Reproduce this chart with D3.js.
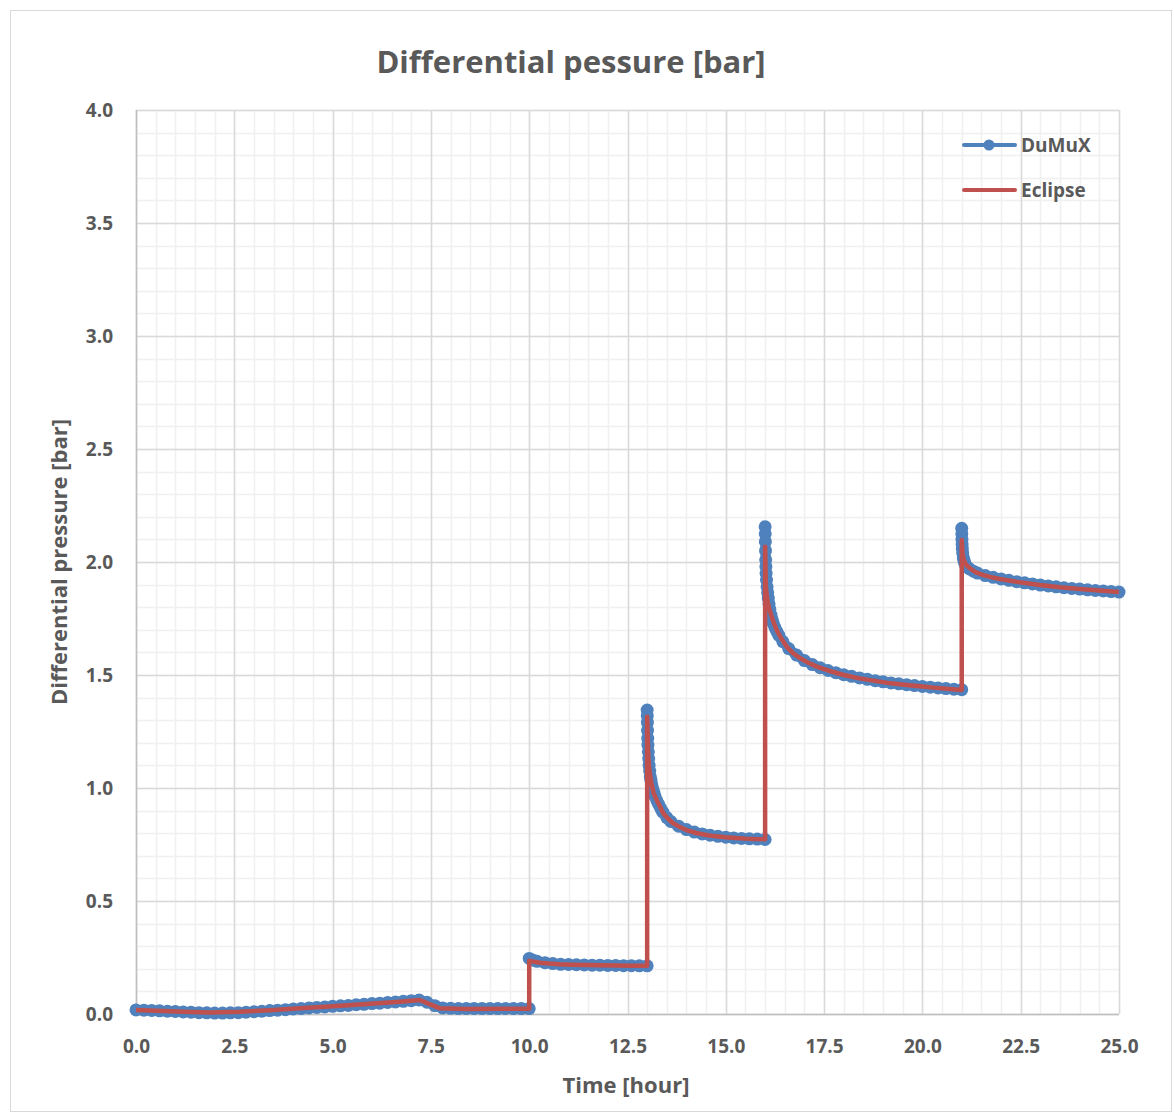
<!DOCTYPE html>
<html>
<head>
<meta charset="utf-8">
<script src="https://cdn.jsdelivr.net/npm/d3@7"></script>
<style>
  html, body { margin: 0; padding: 0; background: #ffffff; }
  svg { display: block; }
  text { font-family: "Open Sans", "Noto Sans", sans-serif; font-weight: 700; fill: #595959; }
</style>
</head>
<body>
<svg id="chart" width="1174" height="1113"></svg>
<script>
// ---- data -------------------------------------------------------------
const chartTitle = "Differential pessure [bar]";
const xTitle = "Time [hour]";
const yTitle = "Differential pressure [bar]";
const seriesNames = ["DuMuX", "Eclipse"];

const xTicks = [0, 2.5, 5, 7.5, 10, 12.5, 15, 17.5, 20, 22.5, 25];
const yTicks = [0, 0.5, 1, 1.5, 2, 2.5, 3, 3.5, 4];

// DuMuX: time [hour]
const dumuxTime = [
  0.0, 0.2, 0.4, 0.6, 0.8, 1.0, 1.2, 1.4, 1.6, 1.8, 2.0, 2.2, 2.4, 2.6, 2.8,
  3.0, 3.2, 3.4, 3.6, 3.8, 4.0, 4.2, 4.4, 4.6, 4.8, 5.0, 5.2, 5.4, 5.6, 5.8,
  6.0, 6.2, 6.4, 6.6, 6.8, 7.0, 7.2, 7.4, 7.6, 7.8, 8.0, 8.2, 8.4, 8.6, 8.8,
  9.0, 9.2, 9.4, 9.6, 9.8, 10.0,
  10.0, 10.1, 10.2, 10.4, 10.6, 10.8, 11.0, 11.2, 11.4, 11.6, 11.8, 12.0, 12.2,
  12.4, 12.6, 12.8, 13.0,
  13.0, 13.003, 13.006, 13.01, 13.015, 13.02, 13.03, 13.04, 13.05, 13.065, 13.08,
  13.095, 13.11, 13.13, 13.15, 13.175, 13.2, 13.25, 13.3, 13.35, 13.4, 13.5,
  13.6, 13.8, 14.0, 14.2, 14.4, 14.6, 14.8, 15.0, 15.2, 15.4, 15.6, 15.8, 16.0,
  16.0, 16.003, 16.006, 16.01, 16.015, 16.02, 16.025, 16.035, 16.05, 16.065, 16.08,
  16.1, 16.12, 16.15, 16.18, 16.21, 16.25, 16.3, 16.35, 16.45,
  16.6, 16.8, 17.0, 17.2, 17.4, 17.6, 17.8, 18.0, 18.2, 18.4, 18.6, 18.8, 19.0,
  19.2, 19.4, 19.6, 19.8, 20.0, 20.2, 20.4, 20.6, 20.8, 21.0,
  21.0, 21.003, 21.006, 21.01, 21.015, 21.025, 21.04, 21.055, 21.07, 21.1, 21.15,
  21.2, 21.3, 21.4, 21.6, 21.8,
  22.0, 22.2, 22.4, 22.6, 22.8, 23.0, 23.2, 23.4, 23.6, 23.8, 24.0, 24.2, 24.4,
  24.6, 24.8, 25.0
];
// DuMuX: differential pressure [bar]
const dumuxDp = [
  0.018, 0.017, 0.016, 0.014, 0.012, 0.011, 0.009, 0.008, 0.006, 0.005, 0.004, 0.004, 0.005, 0.006, 0.008,
  0.010, 0.012, 0.015, 0.017, 0.019, 0.022, 0.024, 0.027, 0.029, 0.031, 0.034, 0.036, 0.038, 0.041, 0.043,
  0.046, 0.048, 0.051, 0.053, 0.056, 0.059, 0.062, 0.052, 0.037, 0.027, 0.025, 0.024, 0.024, 0.024, 0.024,
  0.024, 0.024, 0.024, 0.024, 0.024, 0.024,
  0.246, 0.238, 0.233, 0.227, 0.223, 0.220, 0.219, 0.218, 0.217, 0.216, 0.216, 0.215, 0.215,
  0.214, 0.214, 0.213, 0.213,
  1.345, 1.32, 1.29, 1.255, 1.22, 1.19, 1.16, 1.13, 1.10, 1.075, 1.05,
  1.035, 1.02, 1.005, 0.99, 0.976, 0.963, 0.943, 0.925, 0.908, 0.893, 0.869,
  0.852, 0.831, 0.816, 0.805, 0.797, 0.791, 0.786, 0.782, 0.779, 0.777, 0.775, 0.774, 0.772,
  2.156, 2.125, 2.09, 2.05, 2.01, 1.98, 1.95, 1.92, 1.89, 1.865, 1.84,
  1.815, 1.79, 1.765, 1.745, 1.727, 1.71, 1.692, 1.675, 1.648,
  1.617, 1.588, 1.564, 1.546, 1.532, 1.52, 1.51, 1.501, 1.494, 1.487, 1.481, 1.475, 1.47,
  1.465, 1.461, 1.457, 1.453, 1.449, 1.446, 1.443, 1.44, 1.437, 1.435,
  2.149, 2.125, 2.10, 2.08, 2.06, 2.04, 2.02, 2.008, 1.998, 1.986, 1.976,
  1.969, 1.959, 1.951, 1.94, 1.932,
  1.925, 1.919, 1.913, 1.908, 1.903, 1.898, 1.894, 1.89, 1.886, 1.883, 1.88, 1.877, 1.874,
  1.872, 1.869, 1.867
];

// Eclipse: time [hour]
const eclipseTime = [
  0.0, 0.5, 1.2, 1.88, 2.64, 3.4, 4.17, 5.0, 5.87, 6.71, 7.22, 7.45, 7.73, 8.41, 9.2, 10.0,
  10.0, 10.1, 10.27, 10.5, 10.78, 11.1, 11.46, 11.8, 12.22, 12.6, 13.0,
  13.0, 13.01, 13.02, 13.03, 13.05, 13.08, 13.11, 13.16, 13.24, 13.32, 13.41, 13.52, 13.66,
  13.8, 14.0, 14.25, 14.5, 14.75, 15.0, 15.25, 15.5, 15.75, 16.0,
  16.0, 16.01, 16.02, 16.05, 16.08, 16.12, 16.2, 16.29, 16.4, 16.55, 16.7, 16.89, 17.1,
  17.31, 17.6, 18.0, 18.4, 18.75, 19.2, 19.6, 20.0, 20.36, 20.7, 21.0,
  21.0, 21.02, 21.04, 21.1, 21.21, 21.35, 21.55, 21.75, 21.97, 22.48, 22.99, 23.5, 24.09,
  24.5, 25.0
];
// Eclipse: differential pressure [bar]
const eclipseDp = [
  0.018, 0.014, 0.010, 0.007, 0.010, 0.017, 0.025, 0.034, 0.044, 0.054, 0.062, 0.045, 0.025, 0.022, 0.023, 0.023,
  0.236, 0.232, 0.227, 0.223, 0.220, 0.218, 0.217, 0.216, 0.215, 0.214, 0.214,
  1.315, 1.26, 1.19, 1.14, 1.09, 1.05, 1.02, 0.98, 0.947, 0.92, 0.888, 0.866, 0.844,
  0.83, 0.814, 0.801, 0.792, 0.786, 0.782, 0.779, 0.776, 0.774, 0.773,
  2.068, 1.97, 1.89, 1.84, 1.81, 1.785, 1.74, 1.70, 1.665, 1.625, 1.598, 1.574, 1.554,
  1.537, 1.52, 1.50, 1.485, 1.475, 1.463, 1.456, 1.449, 1.443, 1.438, 1.434,
  2.097, 2.04, 2.016, 1.99, 1.972, 1.955, 1.942, 1.933, 1.925, 1.91, 1.898, 1.888, 1.879,
  1.874, 1.867
];

// ---- layout -----------------------------------------------------------
const W = 1174, H = 1113;
const plot = { left: 136, right: 1119, top: 110, bottom: 1014 };
const colors = { dumux: "#4f81bd", eclipse: "#c0504d" };

const svg = d3.select("#chart");

// outer frame of the chart
svg.append("rect")
  .attr("x", 10.5).attr("y", 10.5)
  .attr("width", W - 13).attr("height", H - 12)
  .attr("fill", "#ffffff").attr("stroke", "#d9d9d9").attr("stroke-width", 1);

const x = d3.scaleLinear().domain([0, 25]).range([plot.left, plot.right]);
const y = d3.scaleLinear().domain([0, 4]).range([plot.bottom, plot.top]);

// minor grid
const xMinor = d3.range(0, 25.0001, 0.5);
const yMinor = d3.range(0, 4.0001, 0.1);
const grid = svg.append("g");
grid.selectAll("line.xminor").data(xMinor).join("line")
  .attr("x1", d => Math.round(x(d)) + 0.5).attr("x2", d => Math.round(x(d)) + 0.5)
  .attr("y1", plot.top).attr("y2", plot.bottom)
  .attr("stroke", "#f0f0f0").attr("stroke-width", 1.5);
grid.selectAll("line.yminor").data(yMinor).join("line")
  .attr("y1", d => Math.round(y(d)) + 0.5).attr("y2", d => Math.round(y(d)) + 0.5)
  .attr("x1", plot.left).attr("x2", plot.right)
  .attr("stroke", "#f0f0f0").attr("stroke-width", 1.5);

// major grid
grid.selectAll("line.xmajor").data(xTicks).join("line")
  .attr("x1", d => Math.round(x(d)) + 0.5).attr("x2", d => Math.round(x(d)) + 0.5)
  .attr("y1", plot.top).attr("y2", plot.bottom)
  .attr("stroke", "#d9d9d9").attr("stroke-width", 1.5);
grid.selectAll("line.ymajor").data(yTicks).join("line")
  .attr("y1", d => Math.round(y(d)) + 0.5).attr("y2", d => Math.round(y(d)) + 0.5)
  .attr("x1", plot.left).attr("x2", plot.right)
  .attr("stroke", "#d9d9d9").attr("stroke-width", 1.5);

// axis lines
svg.append("line")
  .attr("x1", plot.left + 0.5).attr("x2", plot.left + 0.5)
  .attr("y1", plot.top).attr("y2", plot.bottom)
  .attr("stroke", "#bfbfbf").attr("stroke-width", 1.5);
svg.append("line")
  .attr("x1", plot.left).attr("x2", plot.right)
  .attr("y1", plot.bottom + 0.5).attr("y2", plot.bottom + 0.5)
  .attr("stroke", "#bfbfbf").attr("stroke-width", 1.5);

// tick labels via d3 axes
const fmt = d3.format(".1f");
const xAxis = svg.append("g")
  .attr("transform", `translate(0,${plot.bottom})`)
  .call(d3.axisBottom(x).tickValues(xTicks).tickFormat(fmt).tickSize(0).tickPadding(24));
const yAxis = svg.append("g")
  .attr("transform", `translate(${plot.left},0)`)
  .call(d3.axisLeft(y).tickValues(yTicks).tickFormat(fmt).tickSize(0).tickPadding(23));
[xAxis, yAxis].forEach(a => {
  a.select(".domain").remove();
  a.selectAll("text")
    .attr("fill", "#595959")
    .style("font-family", '"Open Sans", "Noto Sans", sans-serif')
    .style("font-weight", 700)
    .style("font-size", "19px");
});
xAxis.selectAll("text").attr("dy", "0.32em").attr("y", 33);

// titles
svg.append("text")
  .attr("x", 571).attr("y", 73)
  .attr("text-anchor", "middle")
  .style("font-size", "31px")
  .text(chartTitle);
svg.append("text")
  .attr("x", 626).attr("y", 1093)
  .attr("text-anchor", "middle")
  .style("font-size", "22px")
  .text(xTitle);
svg.append("text")
  .attr("transform", "translate(67,562) rotate(-90)")
  .attr("text-anchor", "middle")
  .style("font-size", "22px")
  .text(yTitle);

// series
const dumux = dumuxTime.map((t, i) => ({ t, v: dumuxDp[i] }));
const eclipse = eclipseTime.map((t, i) => ({ t, v: eclipseDp[i] }));
const line = d3.line().x(d => x(d.t)).y(d => y(d.v));

// split the DuMuX series at each injection step (repeated time stamp),
// so the thick marker band follows each relaxation curve on its own
const dumuxSegments = [];
dumux.forEach((d, i) => {
  if (i === 0 || d.t === dumux[i - 1].t) dumuxSegments.push([]);
  dumuxSegments[dumuxSegments.length - 1].push(d);
});

const series = svg.append("g");
series.selectAll("path.dumux").data(dumuxSegments).join("path")
  .attr("class", "dumux")
  .attr("d", line)
  .attr("fill", "none")
  .attr("stroke", colors.dumux)
  .attr("stroke-width", 10)
  .attr("stroke-linejoin", "round")
  .attr("stroke-linecap", "round");
series.selectAll("circle.dumux").data(dumux).join("circle")
  .attr("class", "dumux")
  .attr("cx", d => x(d.t)).attr("cy", d => y(d.v))
  .attr("r", 6.5)
  .attr("fill", colors.dumux);
series.append("path")
  .datum(eclipse)
  .attr("d", line)
  .attr("fill", "none")
  .attr("stroke", colors.eclipse)
  .attr("stroke-width", 4.5)
  .attr("stroke-linejoin", "round");

// legend
const legend = svg.append("g");
const legendRows = [
  { name: seriesNames[0], color: colors.dumux, marker: true, y: 145 },
  { name: seriesNames[1], color: colors.eclipse, marker: false, y: 190 }
];
legendRows.forEach(r => {
  legend.append("line")
    .attr("x1", 964).attr("x2", 1015)
    .attr("y1", r.y).attr("y2", r.y)
    .attr("stroke", r.color).attr("stroke-width", 4)
    .attr("stroke-linecap", "round");
  if (r.marker) {
    legend.append("circle")
      .attr("cx", 989).attr("cy", r.y).attr("r", 5.5)
      .attr("fill", r.color);
  }
  legend.append("text")
    .attr("x", 1021).attr("y", r.y)
    .attr("dy", "0.35em")
    .style("font-size", "19px")
    .text(r.name);
});
</script>
</body>
</html>
